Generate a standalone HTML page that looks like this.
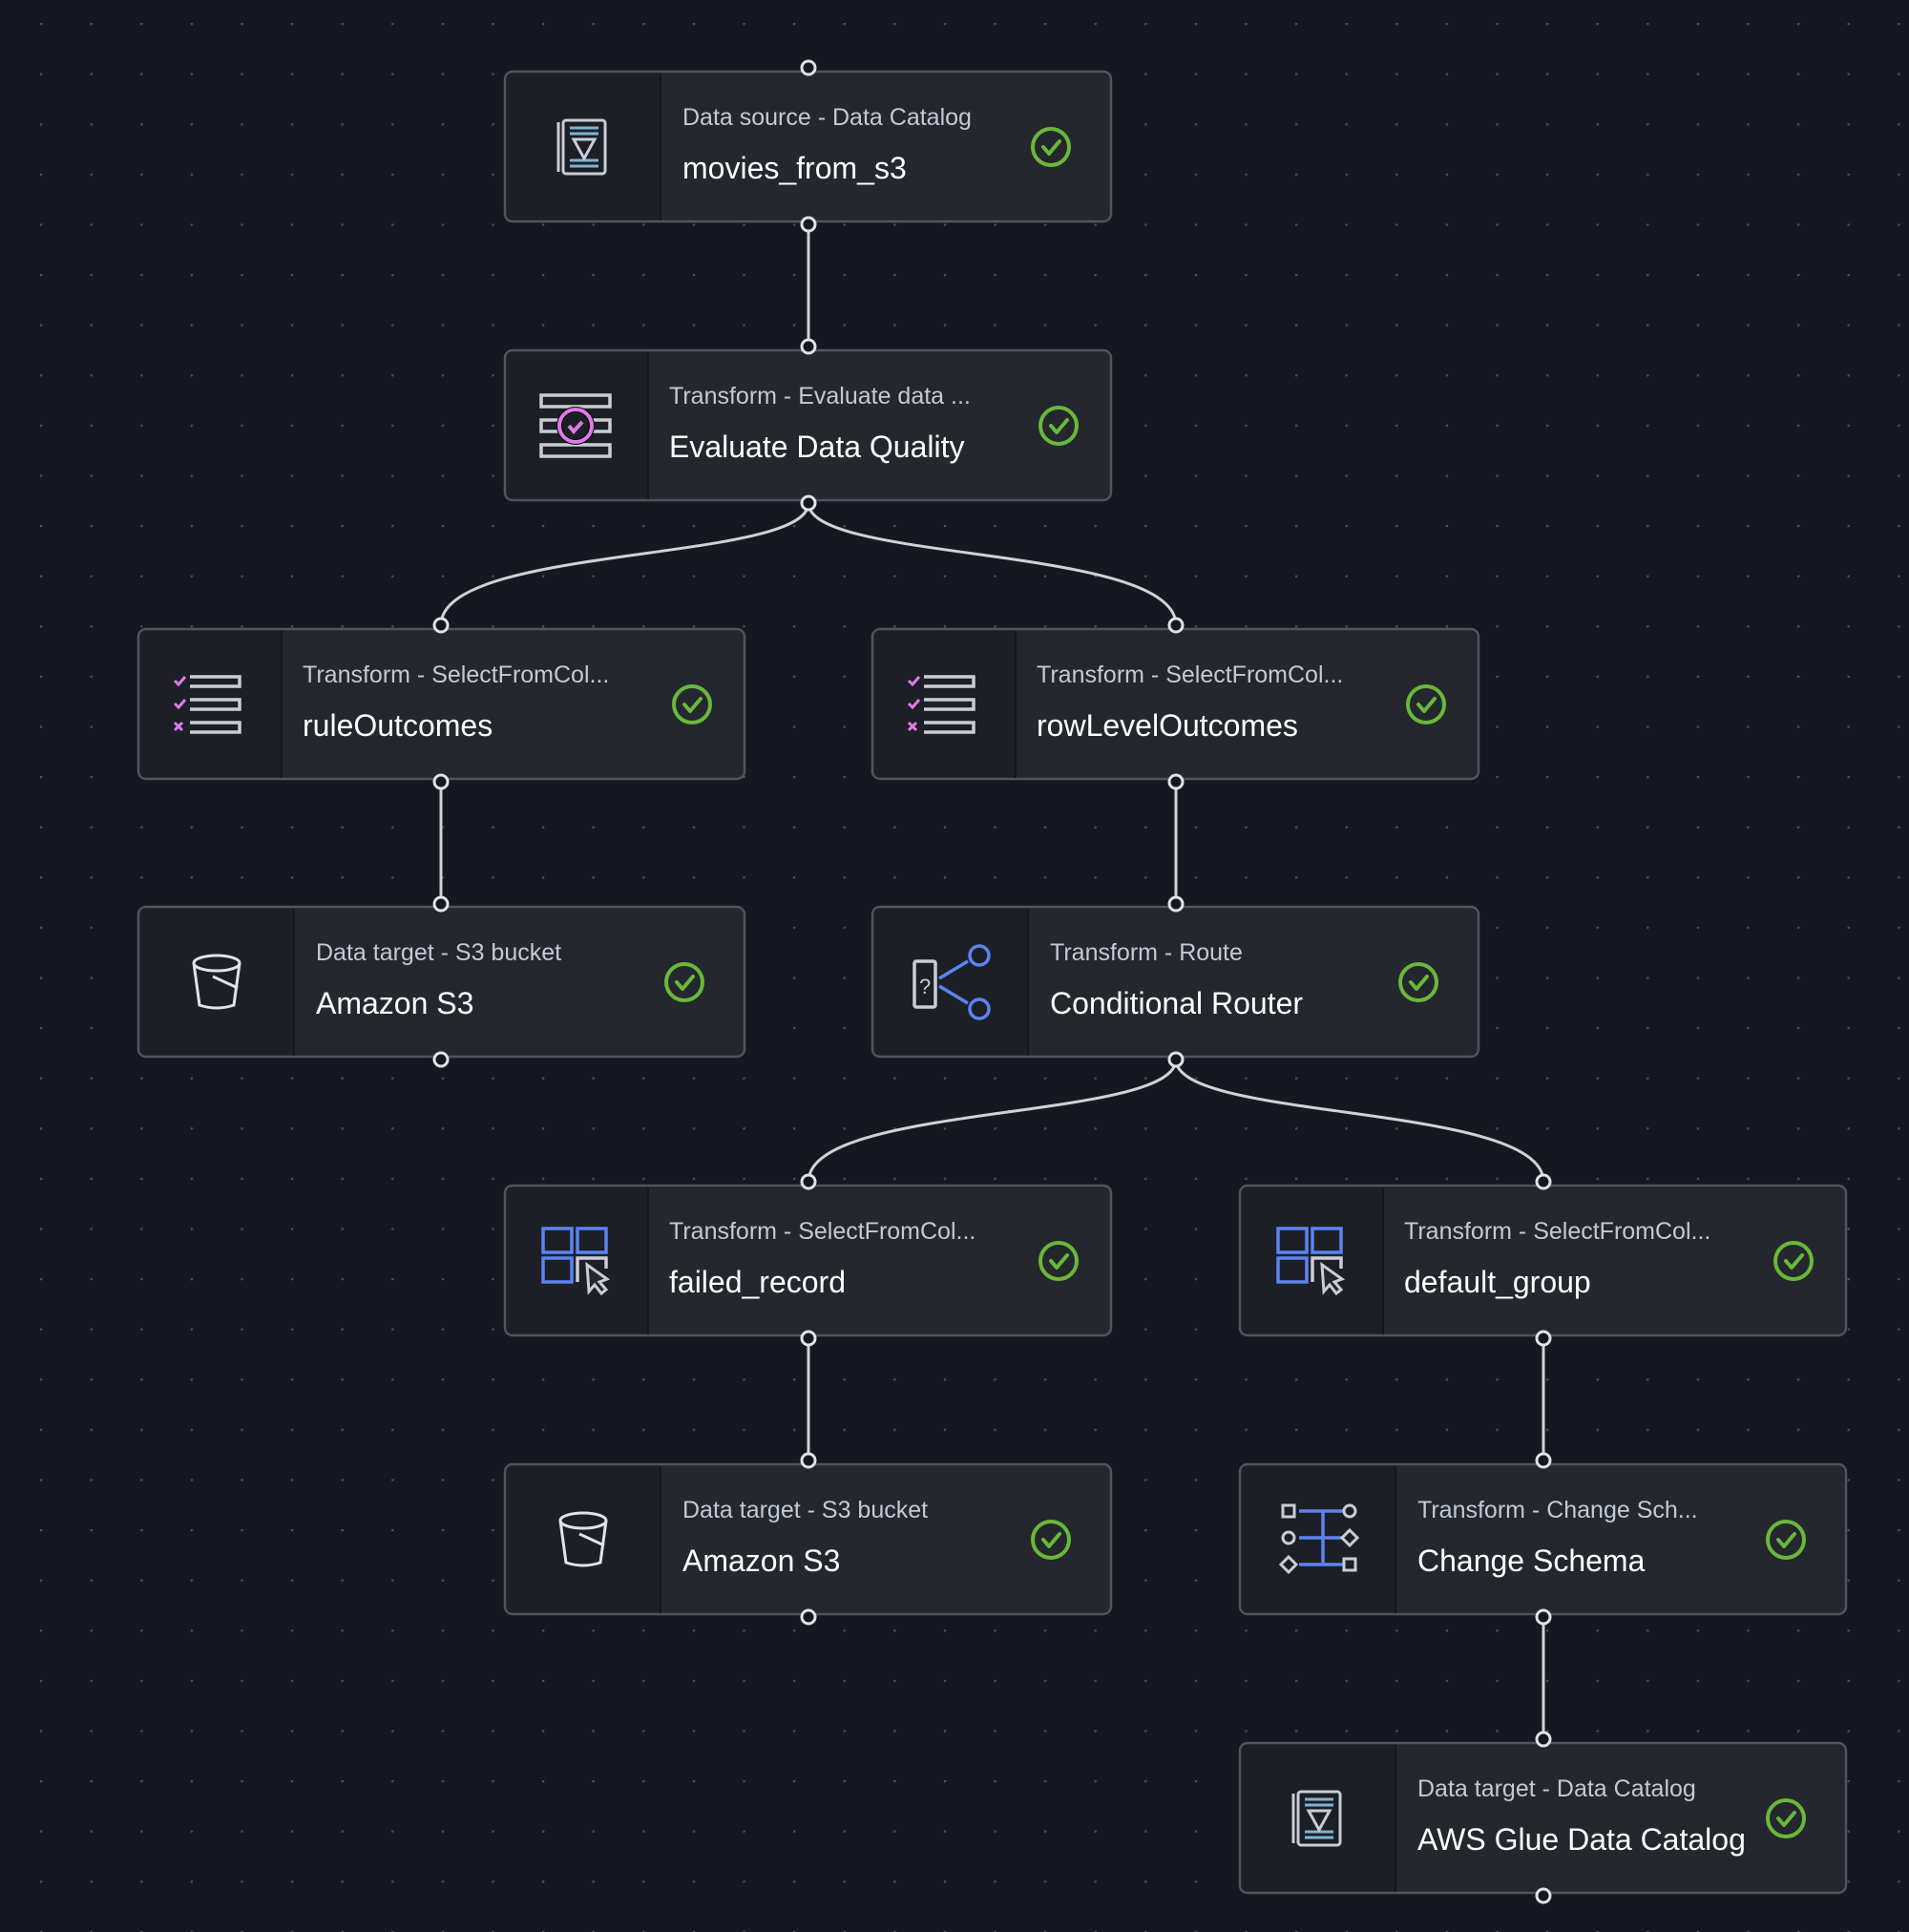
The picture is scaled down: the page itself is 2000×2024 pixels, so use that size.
<!DOCTYPE html>
<html><head><meta charset="utf-8"><style>
html,body{margin:0;padding:0;background:#151820;}
svg{display:block}
text{font-family:"Liberation Sans",sans-serif}
.sub{font-size:25px;fill:#c3cad4}
.ttl{font-size:32px;fill:#ffffff}
</style></head><body>
<svg width="2000" height="2024" viewBox="0 0 2000 2024" xmlns="http://www.w3.org/2000/svg">
<defs>
<pattern id="dots" x="42" y="24" width="52.6" height="52.6" patternUnits="userSpaceOnUse">
<circle cx="0.8" cy="0.8" r="1.6" fill="#4a4f59"/>
</pattern>
<g id="chk"><circle r="19" fill="none" stroke="#69b83a" stroke-width="4"/><path d="M-8,0 L-2,7 L9,-6" fill="none" stroke="#69b83a" stroke-width="4" stroke-linecap="round" stroke-linejoin="round"/></g>
<g id="cat"><rect x="-21" y="-28" width="44" height="56" rx="3" fill="none" stroke="#c9ced6" stroke-width="3"/><path d="M-26,-26 V26" stroke="#c9ced6" stroke-width="3"/><path d="M-14,-20 H16 M-14,-14 H16 M-14,14 H16 M-14,20 H16" stroke="#7fb3d0" stroke-width="3"/><path d="M-10,-8 H12 L1,12 Z" fill="none" stroke="#c9ced6" stroke-width="3"/></g>
<g id="bucket"><ellipse cx="0" cy="-20" rx="24" ry="8" fill="none" stroke="#e0e3e8" stroke-width="3"/><path d="M-24,-20 L-18,24 Q0,30 18,24 L24,-20" fill="none" stroke="#e0e3e8" stroke-width="3"/><path d="M-4,-6 L22,6" stroke="#e0e3e8" stroke-width="3"/></g>
<g id="list"><path d="M-20,-30 H32 V-20 H-20 M-20,-6 H32 V4 H-20 M-20,18 H32 V28 H-20" fill="none" stroke="#c9ced6" stroke-width="3.5"/><path d="M-36,-26 l4,4 l7,-8 M-36,-2 l4,4 l7,-8" fill="none" stroke="#e07ae8" stroke-width="3"/><path d="M-36,18 l8,8 M-28,18 l-8,8" stroke="#e07ae8" stroke-width="3"/></g>
<g id="grid"><rect x="-34" y="-34" width="30" height="25" fill="none" stroke="#5b84f0" stroke-width="3.5"/><rect x="2" y="-34" width="30" height="25" fill="none" stroke="#5b84f0" stroke-width="3.5"/><rect x="-34" y="-3" width="30" height="25" fill="none" stroke="#5b84f0" stroke-width="3.5"/><path d="M2,22 V-3 H32 V8" fill="none" stroke="#c9ced6" stroke-width="3.5"/><path d="M12,4 L14,32 L20,25 L27,34 L32,30 L25,22 L33,19 Z" fill="#23262d" stroke="#c9ced6" stroke-width="3"/></g>
</defs>
<rect width="2000" height="2024" fill="#151820"/>
<rect width="2000" height="2024" fill="url(#dots)"/>

<!-- connectors -->
<g stroke="#d0d2d6" stroke-width="3" fill="none">
<path d="M847,235 V363"/>
<path d="M847,527 C847,590 462,570 462,655"/>
<path d="M847,527 C847,590 1232,570 1232,655"/>
<path d="M462,819 V947"/>
<path d="M1232,819 V947"/>
<path d="M1232,1110 C1232,1175 847,1155 847,1238"/>
<path d="M1232,1110 C1232,1175 1617,1155 1617,1238"/>
<path d="M847,1402 V1530"/>
<path d="M1617,1402 V1530"/>
<path d="M1617,1694 V1822"/>
</g>

<!-- nodes -->
<g id="nodes">
<!-- generic node: translate(x,y) -->
<g transform="translate(529,75)">
<rect x="0" y="0" width="635" height="157" rx="8" fill="#24272e" stroke="#50545c" stroke-width="2.5"/>
<path d="M8,1.5 H163 V155.5 H8 Q1.5,155.5 1.5,149 V8 Q1.5,1.5 8,1.5Z" fill="#1c1f26"/><path d="M163,2 V156" stroke="#15171c" stroke-width="2"/>
<use href="#cat" x="82" y="79"/>
<text class="sub" x="186" y="56">Data source - Data Catalog</text>
<text class="ttl" x="186" y="112">movies_from_s3</text>
<use href="#chk" x="572" y="79"/>
</g>
<g transform="translate(529,367)">
<rect x="0" y="0" width="635" height="157" rx="8" fill="#24272e" stroke="#50545c" stroke-width="2.5"/>
<path d="M8,1.5 H150 V155.5 H8 Q1.5,155.5 1.5,149 V8 Q1.5,1.5 8,1.5Z" fill="#1c1f26"/><path d="M150,2 V156" stroke="#15171c" stroke-width="2"/>
<g transform="translate(74,79)"><path d="M-36,-32 H36 V-20 H-36 Z M-36,-6 H36 V6 H-36 Z M-36,20 H36 V32 H-36 Z" fill="none" stroke="#c9ced6" stroke-width="3.5"/><circle r="17" fill="#1c1f26" stroke="#000" stroke-width="6"/><circle r="17" fill="none" stroke="#e07ae8" stroke-width="4"/><path d="M-7,0 l5,6 l9,-10" fill="none" stroke="#e07ae8" stroke-width="4"/></g>
<text class="sub" x="172" y="56">Transform - Evaluate data ...</text>
<text class="ttl" x="172" y="112">Evaluate Data Quality</text>
<use href="#chk" x="580" y="79"/>
</g>
<g transform="translate(145,659)">
<rect x="0" y="0" width="635" height="157" rx="8" fill="#24272e" stroke="#50545c" stroke-width="2.5"/>
<path d="M8,1.5 H150 V155.5 H8 Q1.5,155.5 1.5,149 V8 Q1.5,1.5 8,1.5Z" fill="#1c1f26"/><path d="M150,2 V156" stroke="#15171c" stroke-width="2"/>
<use href="#list" x="74" y="80"/>
<text class="sub" x="172" y="56">Transform - SelectFromCol...</text>
<text class="ttl" x="172" y="112">ruleOutcomes</text>
<use href="#chk" x="580" y="79"/>
</g>
<g transform="translate(914,659)">
<rect x="0" y="0" width="635" height="157" rx="8" fill="#24272e" stroke="#50545c" stroke-width="2.5"/>
<path d="M8,1.5 H150 V155.5 H8 Q1.5,155.5 1.5,149 V8 Q1.5,1.5 8,1.5Z" fill="#1c1f26"/><path d="M150,2 V156" stroke="#15171c" stroke-width="2"/>
<use href="#list" x="74" y="80"/>
<text class="sub" x="172" y="56">Transform - SelectFromCol...</text>
<text class="ttl" x="172" y="112">rowLevelOutcomes</text>
<use href="#chk" x="580" y="79"/>
</g>
<g transform="translate(145,950)">
<rect x="0" y="0" width="635" height="157" rx="8" fill="#24272e" stroke="#50545c" stroke-width="2.5"/>
<path d="M8,1.5 H163 V155.5 H8 Q1.5,155.5 1.5,149 V8 Q1.5,1.5 8,1.5Z" fill="#1c1f26"/><path d="M163,2 V156" stroke="#15171c" stroke-width="2"/>
<use href="#bucket" x="82" y="79"/>
<text class="sub" x="186" y="56">Data target - S3 bucket</text>
<text class="ttl" x="186" y="112">Amazon S3</text>
<use href="#chk" x="572" y="79"/>
</g>
<g transform="translate(914,950)">
<rect x="0" y="0" width="635" height="157" rx="8" fill="#24272e" stroke="#50545c" stroke-width="2.5"/>
<path d="M8,1.5 H163 V155.5 H8 Q1.5,155.5 1.5,149 V8 Q1.5,1.5 8,1.5Z" fill="#1c1f26"/><path d="M163,2 V156" stroke="#15171c" stroke-width="2"/>
<g transform="translate(82,79)"><rect x="-38" y="-22" width="22" height="48" rx="2" fill="none" stroke="#c9ced6" stroke-width="3.5"/><text x="-33" y="12" style="font-size:22px;fill:#c9ced6">?</text><circle cx="30" cy="-28" r="10" fill="none" stroke="#5b84f0" stroke-width="3.5"/><circle cx="30" cy="28" r="10" fill="none" stroke="#5b84f0" stroke-width="3.5"/><path d="M-12,-4 L18,-22 M-12,4 L18,22" stroke="#5b84f0" stroke-width="3.5"/></g>
<text class="sub" x="186" y="56">Transform - Route</text>
<text class="ttl" x="186" y="112">Conditional Router</text>
<use href="#chk" x="572" y="79"/>
</g>
<g transform="translate(529,1242)">
<rect x="0" y="0" width="635" height="157" rx="8" fill="#24272e" stroke="#50545c" stroke-width="2.5"/>
<path d="M8,1.5 H150 V155.5 H8 Q1.5,155.5 1.5,149 V8 Q1.5,1.5 8,1.5Z" fill="#1c1f26"/><path d="M150,2 V156" stroke="#15171c" stroke-width="2"/>
<use href="#grid" x="74" y="79"/>
<text class="sub" x="172" y="56">Transform - SelectFromCol...</text>
<text class="ttl" x="172" y="112">failed_record</text>
<use href="#chk" x="580" y="79"/>
</g>
<g transform="translate(1299,1242)">
<rect x="0" y="0" width="635" height="157" rx="8" fill="#24272e" stroke="#50545c" stroke-width="2.5"/>
<path d="M8,1.5 H150 V155.5 H8 Q1.5,155.5 1.5,149 V8 Q1.5,1.5 8,1.5Z" fill="#1c1f26"/><path d="M150,2 V156" stroke="#15171c" stroke-width="2"/>
<use href="#grid" x="74" y="79"/>
<text class="sub" x="172" y="56">Transform - SelectFromCol...</text>
<text class="ttl" x="172" y="112">default_group</text>
<use href="#chk" x="580" y="79"/>
</g>
<g transform="translate(529,1534)">
<rect x="0" y="0" width="635" height="157" rx="8" fill="#24272e" stroke="#50545c" stroke-width="2.5"/>
<path d="M8,1.5 H163 V155.5 H8 Q1.5,155.5 1.5,149 V8 Q1.5,1.5 8,1.5Z" fill="#1c1f26"/><path d="M163,2 V156" stroke="#15171c" stroke-width="2"/>
<use href="#bucket" x="82" y="79"/>
<text class="sub" x="186" y="56">Data target - S3 bucket</text>
<text class="ttl" x="186" y="112">Amazon S3</text>
<use href="#chk" x="572" y="79"/>
</g>
<g transform="translate(1299,1534)">
<rect x="0" y="0" width="635" height="157" rx="8" fill="#24272e" stroke="#50545c" stroke-width="2.5"/>
<path d="M8,1.5 H163 V155.5 H8 Q1.5,155.5 1.5,149 V8 Q1.5,1.5 8,1.5Z" fill="#1c1f26"/><path d="M163,2 V156" stroke="#15171c" stroke-width="2"/>
<g transform="translate(82,77)" stroke-width="3"><path d="M-20,-28 H30 M-20,0 H30 M-20,28 H30 M5,-28 V28" stroke="#5b84f0" stroke-width="3.5"/><rect x="-37" y="-34" width="12" height="12" fill="#1c1f26" stroke="#c9ced6"/><circle cx="-31" cy="0" r="6" fill="#1c1f26" stroke="#c9ced6"/><path d="M-31,20 l8,8 l-8,8 l-8,-8z" fill="#1c1f26" stroke="#c9ced6"/><circle cx="33" cy="-28" r="6" fill="#1c1f26" stroke="#c9ced6"/><path d="M33,-8 l8,8 l-8,8 l-8,-8z" fill="#1c1f26" stroke="#c9ced6"/><rect x="27" y="22" width="12" height="12" fill="#1c1f26" stroke="#c9ced6"/></g>
<text class="sub" x="186" y="56">Transform - Change Sch...</text>
<text class="ttl" x="186" y="112">Change Schema</text>
<use href="#chk" x="572" y="79"/>
</g>
<g transform="translate(1299,1826)">
<rect x="0" y="0" width="635" height="157" rx="8" fill="#24272e" stroke="#50545c" stroke-width="2.5"/>
<path d="M8,1.5 H163 V155.5 H8 Q1.5,155.5 1.5,149 V8 Q1.5,1.5 8,1.5Z" fill="#1c1f26"/><path d="M163,2 V156" stroke="#15171c" stroke-width="2"/>
<use href="#cat" x="82" y="79"/>
<text class="sub" x="186" y="56">Data target - Data Catalog</text>
<text class="ttl" x="186" y="112">AWS Glue Data Catalog</text>
<use href="#chk" x="572" y="79"/>
</g>
</g>

<!-- ports -->
<g fill="#151820" stroke="#e0e2e6" stroke-width="3">
<circle cx="847" cy="71" r="7"/><circle cx="847" cy="235" r="7"/>
<circle cx="847" cy="363" r="7"/><circle cx="847" cy="527" r="7"/>
<circle cx="462" cy="655" r="7"/><circle cx="462" cy="819" r="7"/>
<circle cx="1232" cy="655" r="7"/><circle cx="1232" cy="819" r="7"/>
<circle cx="462" cy="947" r="7"/><circle cx="462" cy="1110" r="7"/>
<circle cx="1232" cy="947" r="7"/><circle cx="1232" cy="1110" r="7"/>
<circle cx="847" cy="1238" r="7"/><circle cx="847" cy="1402" r="7"/>
<circle cx="1617" cy="1238" r="7"/><circle cx="1617" cy="1402" r="7"/>
<circle cx="847" cy="1530" r="7"/><circle cx="847" cy="1694" r="7"/>
<circle cx="1617" cy="1530" r="7"/><circle cx="1617" cy="1694" r="7"/>
<circle cx="1617" cy="1822" r="7"/><circle cx="1617" cy="1986" r="7"/>
</g>
</svg>
</body></html>
